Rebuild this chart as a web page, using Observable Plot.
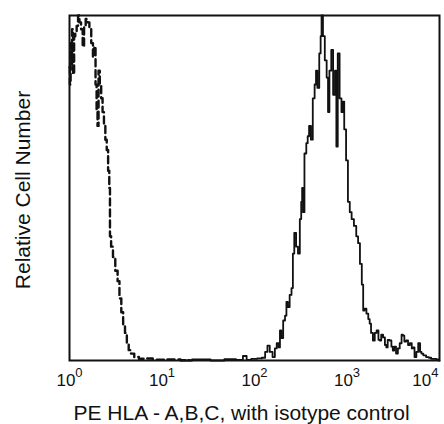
<!DOCTYPE html>
<html><head><meta charset="utf-8">
<script src="https://cdn.jsdelivr.net/npm/d3@7"></script>
<script src="https://cdn.jsdelivr.net/npm/@observablehq/plot@0.6"></script>
<style>body{margin:0;background:#fff}</style>
</head><body><div id="chart"></div>
<script>
// x tick exponents (10^n)
const xTickExponents = [0, 1, 2, 3, 4];
const xLabel = "PE HLA - A,B,C, with isotype control";
const yLabel = "Relative Cell Number";

// PE HLA-A,B,C stained (solid): log10 fluorescence and relative count
const solidLog = [1.20,1.45,1.60,1.75,1.85,1.90,1.93,2.00,2.06,2.10,2.13,2.15,2.18,2.21,2.23,2.25,2.27,2.28,2.30,2.32,2.34,2.35,2.37,2.39,2.41,2.42,2.44,2.46,2.48,2.50,2.51,2.52,2.53,2.55,2.57,2.58,2.60,2.62,2.64,2.66,2.67,2.69,2.71,2.72,2.73,2.75,2.77,2.79,2.80,2.82,2.84,2.86,2.88,2.89,2.91,2.93,2.95,2.96,2.98,3.00,3.02,3.04,3.06,3.09,3.11,3.13,3.15,3.17,3.18,3.20,3.22,3.24,3.25,3.27,3.29,3.31,3.33,3.35,3.36,3.38,3.40,3.42,3.43,3.45,3.47,3.49,3.50,3.52,3.54,3.56,3.58,3.60,3.61,3.63,3.65,3.67,3.69,3.71,3.72,3.74,3.76,3.78,3.80,3.81,3.84,3.87,3.90,3.92,3.95,3.98,4.00];
const solidCount = [0,0.3,0,0.4,0.2,1.3,0.2,0.5,0.6,0.8,2.5,4.3,2.5,1,3.5,5,3.8,8.7,6.5,11.6,13,17,15.5,19,21,31,37,33,31,41,46,50,43,60,63,65,68,64,76,80,84,79,89,94,100,94,87,82,72,84,90,77,84,62,89,76,72,75,67,58,46,43,41,39,36,34,28,22,14.5,15,13.6,12,10.7,8,5.8,8,8.7,6,5.8,7.5,6.7,4.5,3.8,6,5.8,4,2.9,4,2,3.5,5,7.5,7.2,5.5,5.8,4.5,5,3.5,3.8,1,2.5,5,2.5,2,1.5,1,0.8,0.5,0.5,0.3,0];

// Isotype control (dashed)
const dashedLog = [0.000,0.008,0.016,0.024,0.032,0.045,0.055,0.070,0.085,0.100,0.115,0.135,0.150,0.165,0.185,0.205,0.225,0.245,0.262,0.275,0.288,0.298,0.308,0.320,0.335,0.350,0.365,0.380,0.395,0.410,0.425,0.435,0.440,0.460,0.480,0.510,0.530,0.550,0.570,0.590,0.610,0.630,0.650,0.680,0.720,0.780,0.850,0.950,1.100,1.300];
const dashedCount = [85,80,92,86,96,83,94,95,97,100,98,96,91,97,99,98,96,92,88,91,80,72,68,84,80,76,72,68,64,61,55,50,36,33,30,26,23,18,14,10,8,5,3,2,1,0.5,0.6,0.2,0.3,0.1];

const solid = solidLog.map((l, i) => ({x: 10 ** l, y: solidCount[i]}));
const dashed = dashedLog.map((l, i) => ({x: 10 ** l, y: dashedCount[i]}));

const chart = Plot.plot({
  width: 444, height: 424,
  marginTop: 15, marginRight: 5, marginBottom: 64, marginLeft: 69,
  style: {fontFamily: "'Liberation Sans', Arial, sans-serif", background: "#fff", color: "#111"},
  x: {type: "log", domain: [1, 1e4]},
  y: {domain: [0, 100]},
  marks: [
    Plot.line(dashed, {x: "x", y: "y", curve: "step", stroke: "#111", strokeWidth: 2.4, strokeDasharray: "7,4"}),
    Plot.line(solid, {x: "x", y: "y", curve: "step", stroke: "#111", strokeWidth: 1.8}),
    Plot.frame({stroke: "#111", strokeWidth: 2}),
    Plot.axisX({ticks: xTickExponents.map(e => 10 ** e), tickSize: 0, tickPadding: 13, tickFormat: () => "10", label: null}),
    Plot.axisY({ticks: [], label: null}),
    Plot.text([xLabel], {frameAnchor: "bottom-left", dx: 4, dy: 53, fontSize: 21, textAnchor: "start", lineAnchor: "middle", fill: "#111"}),
    Plot.text([yLabel], {frameAnchor: "left", dx: -46, dy: 2, rotate: -90, fontSize: 21, textAnchor: "middle", fill: "#111"})
  ]
});

const svg = d3.select(chart);
const labels = svg.selectAll('g[aria-label="x-axis tick label"] text');
const n = labels.size();
labels.each(function(d, i) {
  const t = d3.select(this);
  t.attr("font-size", 17).style("font-size", "17px").attr("fill", "#111");
  t.append("tspan").attr("dy", -9).style("font-size", "13px").text(String(xTickExponents[i]));
  if (i === n - 1) t.attr("text-anchor", "end").attr("dx", -1);
});
document.getElementById("chart").appendChild(chart);
</script>
</body></html>
